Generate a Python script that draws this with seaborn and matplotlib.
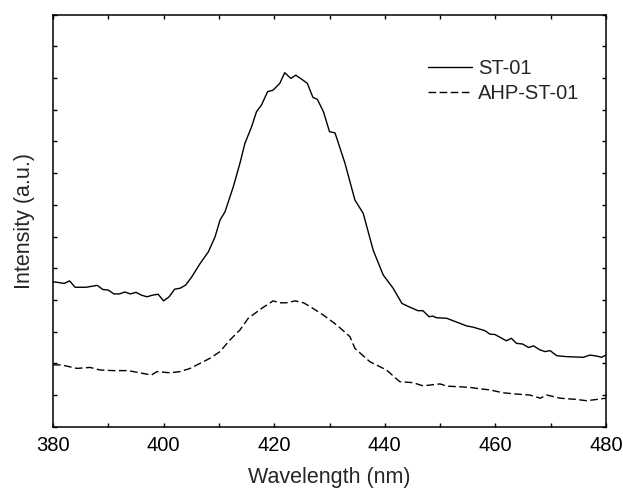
import numpy as np
import pandas as pd
import matplotlib
matplotlib.use("Agg")
import matplotlib.pyplot as plt
import seaborn as sns

# ---- data ----
st01_wl = [380, 381, 382, 383, 384, 386, 388, 389, 390, 391, 392, 393, 394, 395, 396,
           397, 398, 399, 400, 401, 402, 403, 404, 405.1, 406.6, 408.1, 409.3, 410.2,
           411.1, 412.6, 413.8, 414.7, 415.9, 416.8, 417.7, 418.8, 419.8, 421.0, 421.9,
           423.0, 423.9, 425.0, 426.0, 427.0, 427.8, 428.9, 430.0, 431.0, 432.8, 434.6,
           436.1, 437.9, 439.7, 441.5, 443.1, 444.3, 446.0, 446.9, 448.0, 448.7, 449.3,
           451.2, 454.8, 456.0, 458.1, 459.0, 459.9, 462.0, 462.9, 463.8, 464.9, 466.0,
           466.9, 468.1, 469.0, 469.9, 471.1, 472.9, 475.9, 477.1, 478.3, 479.2, 480]
st01_int = [4.57, 4.55, 4.52, 4.60, 4.40, 4.40, 4.46, 4.33, 4.31, 4.19, 4.19, 4.25, 4.19, 4.24, 4.15,
            4.10, 4.15, 4.18, 3.97, 4.10, 4.34, 4.37, 4.47, 4.73, 5.15, 5.52, 5.99, 6.52,
            6.78, 7.57, 8.31, 8.94, 9.46, 9.94, 10.15, 10.57, 10.62, 10.83, 11.17,
            10.99, 11.09, 10.96, 10.83, 10.39, 10.33, 9.94, 9.31, 9.27, 8.31, 7.15,
            6.73, 5.57, 4.79, 4.37, 3.89, 3.79, 3.66, 3.66, 3.47, 3.49, 3.44,
            3.42, 3.18, 3.14, 3.03, 2.92, 2.91, 2.71, 2.79, 2.63, 2.61, 2.50,
            2.55, 2.42, 2.37, 2.40, 2.24, 2.21, 2.19, 2.26, 2.23, 2.19, 2.26]

ahp_wl = [380, 381.5, 384.3, 386.7, 388.5, 390.9, 393.6, 395.7, 397.8, 398.8, 401.2, 403.0,
          404.8, 406.6, 408.4, 410.2, 412.0, 413.8, 415.3, 417.7, 419.8, 421.0, 422.2,
          423.8, 425.3, 426.5, 428.9, 431.3, 433.7, 434.6, 437.3, 440.3, 442.7, 445.1,
          446.9, 450.0, 451.2, 453.6, 455.4, 456.6, 459.0, 461.4, 463.8, 466.2, 468.1,
          469.3, 471.7, 474.7, 476.5, 478.3, 480]
ahp_int = [1.95, 1.95, 1.84, 1.87, 1.79, 1.77, 1.77, 1.70, 1.63, 1.74, 1.70, 1.74,
           1.84, 2.00, 2.16, 2.37, 2.74, 3.05, 3.42, 3.73, 3.97, 3.91, 3.91,
           3.97, 3.91, 3.79, 3.52, 3.21, 2.84, 2.47, 2.05, 1.79, 1.42, 1.39,
           1.29, 1.35, 1.28, 1.26, 1.24, 1.21, 1.16, 1.07, 1.03, 1.00, 0.90,
           1.00, 0.90, 0.86, 0.82, 0.86, 0.90]

series_names = ["ST-01", "AHP-ST-01"]
x_ticks = [380, 400, 420, 440, 460, 480]

df = pd.concat([
    pd.DataFrame({"Wavelength": st01_wl, "Intensity": st01_int, "Sample": series_names[0]}),
    pd.DataFrame({"Wavelength": ahp_wl, "Intensity": ahp_int, "Sample": series_names[1]}),
], ignore_index=True)

sns.set_theme(style="ticks")
plt.rcParams["font.family"] = ["Liberation Sans", "DejaVu Sans"]

fig = plt.figure(figsize=(6.23, 4.88), dpi=100)
ax = fig.add_axes([0.0851, 0.1256, 0.8876, 0.8443])

sns.lineplot(data=df, x="Wavelength", y="Intensity", hue="Sample", style="Sample",
             hue_order=series_names, style_order=series_names,
             palette={series_names[0]: "black", series_names[1]: "black"},
             dashes={series_names[0]: "", series_names[1]: (5.5, 2.5)},
             linewidth=1.0, sort=False, estimator=None, ax=ax)

ax.set_xlim(380, 480)
ax.set_ylim(0, 13)
ax.set_xticks(x_ticks)
ax.set_xticks(np.arange(390, 480, 20), minor=True)
ax.set_yticks(np.arange(0, 14, 1))
ax.set_yticklabels([])

for side in ["top", "right", "bottom", "left"]:
    ax.spines[side].set_visible(True)
    ax.spines[side].set_linewidth(1.1)
    ax.spines[side].set_color("black")

ax.tick_params(which="both", direction="in", length=3.2, width=1.0, colors="black",
               top=True, right=True, labelsize=14.5, pad=7)

ax.set_xlabel("Wavelength (nm)", fontsize=15.5, labelpad=8)
ax.set_ylabel("Intensity (a.u.)", fontsize=15.5, labelpad=6)

leg = ax.legend(loc="upper left", bbox_to_anchor=(0.6776, 0.893), frameon=False,
                fontsize=14.5, handlelength=2.2, handletextpad=0.3, labelspacing=0.33,
                borderpad=0, borderaxespad=0)
for line in leg.get_lines():
    line.set_linewidth(1.0)

fig.savefig("out.png", dpi=100)
